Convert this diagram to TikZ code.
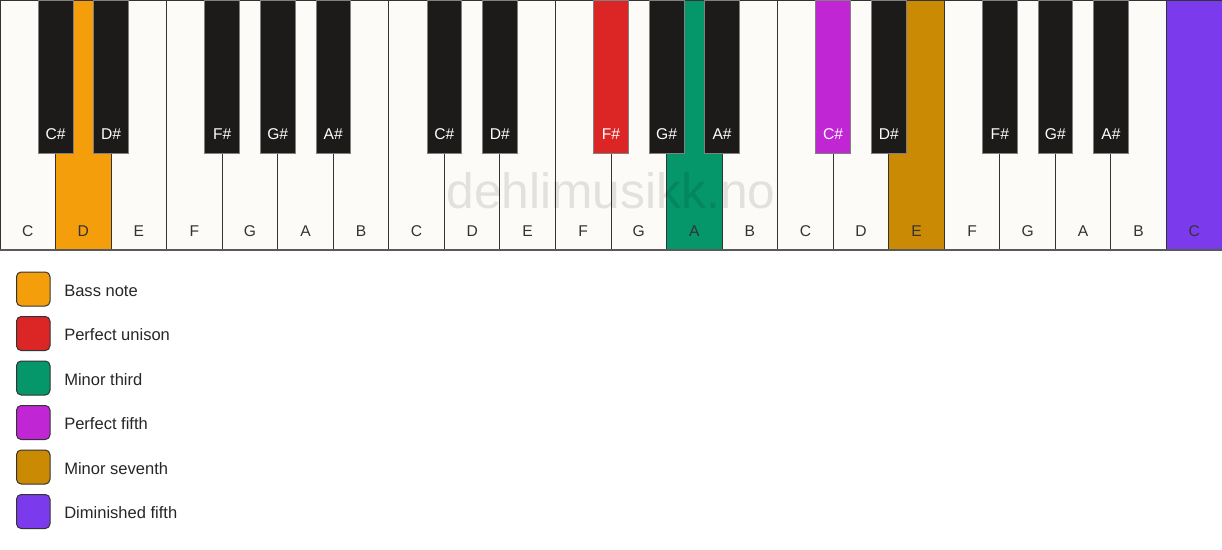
\documentclass[tikz,border=0pt]{standalone}
\usepackage{fontspec}
\setmainfont{Liberation Sans}
\definecolor{ivory}{HTML}{FCFBF8}
\definecolor{keyblack}{HTML}{1C1B1A}
\definecolor{rim}{HTML}{333333}
\definecolor{bass}{HTML}{F59E0B}
\definecolor{unison}{HTML}{DC2626}
\definecolor{minthird}{HTML}{059669}
\definecolor{fifth}{HTML}{C026D3}
\definecolor{seventh}{HTML}{CA8A04}
\definecolor{dimfifth}{HTML}{7C3AED}

\begin{document}
\begin{tikzpicture}[x=0.75pt,y=-0.75pt]
    \tikzstyle{every node}+=[inner sep=0pt]
    \tikzstyle{wkey}=[draw=rim, line width=0.75pt]
    \tikzstyle{bkey}=[draw=gray, line width=0.6pt]
    \tikzstyle{wlab}=[anchor=base, text=rim, font=\fontsize{11.7}{13}\selectfont]
    \tikzstyle{blab}=[anchor=base, text=white, font=\fontsize{11.7}{13}\selectfont]
    \tikzstyle{swatch}=[draw=rim, line width=0.75pt, rounded corners=3.5pt]
    \tikzstyle{legtext}=[anchor=base west, text=black!85, font=\fontsize{12.4}{14}\selectfont]
    \useasboundingbox (0,0) rectangle (1222,550);
    % white keys
    \draw [wkey, fill=ivory] (0,0) rectangle (55.55,250);
    \draw [wkey, fill=bass] (55.55,0) rectangle (111.09,250);
    \draw [wkey, fill=ivory] (111.09,0) rectangle (166.64,250);
    \draw [wkey, fill=ivory] (166.64,0) rectangle (222.18,250);
    \draw [wkey, fill=ivory] (222.18,0) rectangle (277.73,250);
    \draw [wkey, fill=ivory] (277.73,0) rectangle (333.27,250);
    \draw [wkey, fill=ivory] (333.27,0) rectangle (388.82,250);
    \draw [wkey, fill=ivory] (388.82,0) rectangle (444.36,250);
    \draw [wkey, fill=ivory] (444.36,0) rectangle (499.91,250);
    \draw [wkey, fill=ivory] (499.91,0) rectangle (555.45,250);
    \draw [wkey, fill=ivory] (555.45,0) rectangle (611.00,250);
    \draw [wkey, fill=ivory] (611.00,0) rectangle (666.55,250);
    \draw [wkey, fill=minthird] (666.55,0) rectangle (722.09,250);
    \draw [wkey, fill=ivory] (722.09,0) rectangle (777.64,250);
    \draw [wkey, fill=ivory] (777.64,0) rectangle (833.18,250);
    \draw [wkey, fill=ivory] (833.18,0) rectangle (888.73,250);
    \draw [wkey, fill=seventh] (888.73,0) rectangle (944.27,250);
    \draw [wkey, fill=ivory] (944.27,0) rectangle (999.82,250);
    \draw [wkey, fill=ivory] (999.82,0) rectangle (1055.36,250);
    \draw [wkey, fill=ivory] (1055.36,0) rectangle (1110.91,250);
    \draw [wkey, fill=ivory] (1110.91,0) rectangle (1166.45,250);
    \draw [wkey, fill=dimfifth] (1166.45,0) rectangle (1222,250);
    \draw [line width=1.5pt, color=black!65] (0,250) -- (1222,250);
    % watermark
    \node [anchor=base, text=black, text opacity=0.1, font=\fontsize{37.3}{40}\selectfont] (site) at (611,208) {dehlimusikk.no};
    % white key names
    \draw (27.77,236) node [wlab] (wC1) {C};
    \draw (83.32,236) node [wlab] (wD1) {D};
    \draw (138.86,236) node [wlab] (wE1) {E};
    \draw (194.41,236) node [wlab] (wF1) {F};
    \draw (249.95,236) node [wlab] (wG1) {G};
    \draw (305.50,236) node [wlab] (wA1) {A};
    \draw (361.05,236) node [wlab] (wB1) {B};
    \draw (416.59,236) node [wlab] (wC2) {C};
    \draw (472.14,236) node [wlab] (wD2) {D};
    \draw (527.68,236) node [wlab] (wE2) {E};
    \draw (583.23,236) node [wlab] (wF2) {F};
    \draw (638.77,236) node [wlab] (wG2) {G};
    \draw (694.32,236) node [wlab] (wA2) {A};
    \draw (749.86,236) node [wlab] (wB2) {B};
    \draw (805.41,236) node [wlab] (wC3) {C};
    \draw (860.95,236) node [wlab] (wD3) {D};
    \draw (916.50,236) node [wlab] (wE3) {E};
    \draw (972.05,236) node [wlab] (wF3) {F};
    \draw (1027.59,236) node [wlab] (wG3) {G};
    \draw (1083.14,236) node [wlab] (wA3) {A};
    \draw (1138.68,236) node [wlab] (wB3) {B};
    \draw (1194.23,236) node [wlab] (wC4) {C};
    % black keys
    \draw [bkey, fill=keyblack] (38.19,0) rectangle (72.91,153);
    \draw (55.55,139) node [blab] (bC1) {C\#};
    \draw [bkey, fill=keyblack] (93.73,0) rectangle (128.45,153);
    \draw (111.09,139) node [blab] (bD1) {D\#};
    \draw [bkey, fill=keyblack] (204.82,0) rectangle (239.54,153);
    \draw (222.18,139) node [blab] (bF1) {F\#};
    \draw [bkey, fill=keyblack] (260.37,0) rectangle (295.09,153);
    \draw (277.73,139) node [blab] (bG1) {G\#};
    \draw [bkey, fill=keyblack] (315.91,0) rectangle (350.63,153);
    \draw (333.27,139) node [blab] (bA1) {A\#};
    \draw [bkey, fill=keyblack] (427.00,0) rectangle (461.72,153);
    \draw (444.36,139) node [blab] (bC2) {C\#};
    \draw [bkey, fill=keyblack] (482.55,0) rectangle (517.27,153);
    \draw (499.91,139) node [blab] (bD2) {D\#};
    \draw [bkey, fill=unison] (593.64,0) rectangle (628.36,153);
    \draw (611.00,139) node [blab] (bF2) {F\#};
    \draw [bkey, fill=keyblack] (649.19,0) rectangle (683.91,153);
    \draw (666.55,139) node [blab] (bG2) {G\#};
    \draw [bkey, fill=keyblack] (704.73,0) rectangle (739.45,153);
    \draw (722.09,139) node [blab] (bA2) {A\#};
    \draw [bkey, fill=fifth] (815.82,0) rectangle (850.54,153);
    \draw (833.18,139) node [blab] (bC3) {C\#};
    \draw [bkey, fill=keyblack] (871.37,0) rectangle (906.09,153);
    \draw (888.73,139) node [blab] (bD3) {D\#};
    \draw [bkey, fill=keyblack] (982.46,0) rectangle (1017.18,153);
    \draw (999.82,139) node [blab] (bF3) {F\#};
    \draw [bkey, fill=keyblack] (1038.00,0) rectangle (1072.72,153);
    \draw (1055.36,139) node [blab] (bG3) {G\#};
    \draw [bkey, fill=keyblack] (1093.55,0) rectangle (1128.27,153);
    \draw (1110.91,139) node [blab] (bA3) {A\#};
    % legend
    \draw [swatch, fill=bass] (16.5,272) rectangle (50,306);
    \draw (64,296) node [legtext] (lgBass) {Bass note};
    \draw [swatch, fill=unison] (16.5,316.5) rectangle (50,350.5);
    \draw (64,340.5) node [legtext] (lgUnison) {Perfect unison};
    \draw [swatch, fill=minthird] (16.5,361) rectangle (50,395);
    \draw (64,385) node [legtext] (lgThird) {Minor third};
    \draw [swatch, fill=fifth] (16.5,405.5) rectangle (50,439.5);
    \draw (64,429.5) node [legtext] (lgFifth) {Perfect fifth};
    \draw [swatch, fill=seventh] (16.5,450) rectangle (50,484);
    \draw (64,474) node [legtext] (lgSeventh) {Minor seventh};
    \draw [swatch, fill=dimfifth] (16.5,494.5) rectangle (50,528.5);
    \draw (64,518.5) node [legtext] (lgDim) {Diminished fifth};
\end{tikzpicture}
\end{document}
